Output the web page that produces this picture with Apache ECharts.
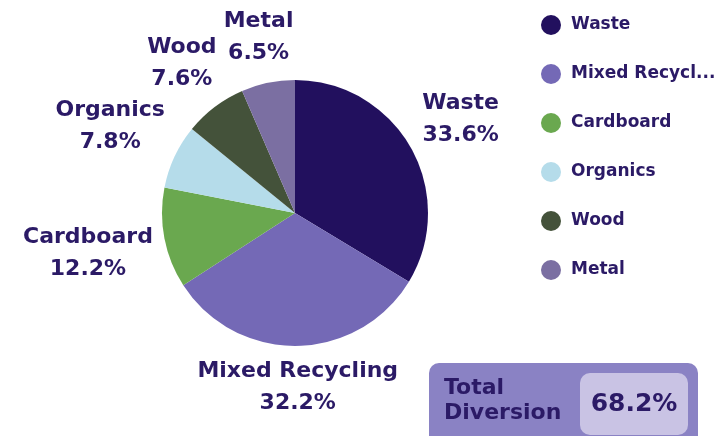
<!DOCTYPE html>
<html>
<head>
<meta charset="utf-8">
<script src="https://cdn.jsdelivr.net/npm/echarts@6/dist/echarts.min.js"></script>
<style>
html,body{margin:0;padding:0;background:#fff;}
#chart{width:718px;height:436px;}
</style>
</head>
<body>
<div id="chart"></div>
<script>
// ---- data ----
const categories = ['Waste', 'Mixed Recycling', 'Cardboard', 'Organics', 'Wood', 'Metal'];
const shares = [33.6, 32.2, 12.2, 7.8, 7.6, 6.5];
const totalDiversionLabel = 'Total\nDiversion';
const totalDiversionValue = '68.2%';

// ---- styles ----
const colors = ['#22105e', '#7469b6', '#6aa84f', '#b5dcea', '#44523a', '#7b6fa2'];
const textColor = '#2b1a66';
const fontFamily = '"DejaVu Sans", sans-serif';
const CX = 295, CY = 213, R = 133, GAP = 8;

const total = shares.reduce((a, b) => a + b, 0);
const midAngles = [];
let acc = 0;
shares.forEach(v => {
  midAngles.push((acc + v / 2) / total * Math.PI * 2);
  acc += v;
});

const chart = echarts.init(document.getElementById('chart'), null, {renderer: 'canvas'});
chart.setOption({
  animation: false,
  color: colors,
  legend: {
    orient: 'vertical',
    left: 536,
    top: 10,
    icon: 'circle',
    itemWidth: 30,
    itemHeight: 20,
    itemGap: 29,
    data: categories,
    textStyle: {
      color: textColor,
      fontFamily: fontFamily,
      fontWeight: 'bold',
      fontSize: 17,
      width: 146,
      overflow: 'truncate',
      ellipsis: '...'
    }
  },
  series: [{
    type: 'pie',
    center: [CX, CY],
    radius: R,
    startAngle: 90,
    clockwise: true,
    avoidLabelOverlap: false,
    data: categories.map((n, i) => ({name: n, value: shares[i]})),
    label: {
      show: true,
      position: 'outside',
      color: textColor,
      fontFamily: fontFamily,
      fontWeight: 'bold',
      fontSize: 22,
      lineHeight: 32,
      align: 'center',
      formatter: p => p.name + '\n' + p.value.toFixed(1) + '%'
    },
    labelLine: {show: false},
    labelLayout: function (params) {
      const a = midAngles[params.dataIndex];
      const ux = Math.sin(a), uy = -Math.cos(a);
      const w = params.labelRect.width, h = params.labelRect.height;
      const d = R + GAP + Math.abs(ux) * w / 2 + Math.abs(uy) * h / 2;
      return {x: CX + ux * d, y: CY + uy * d, align: 'center', verticalAlign: 'middle'};
    },
    emphasis: {disabled: true}
  }],
  graphic: [
    {
      type: 'rect',
      shape: {x: 429, y: 363, width: 269, height: 85, r: 10},
      style: {fill: '#8a82c4'}
    },
    {
      type: 'rect',
      shape: {x: 580, y: 373, width: 108, height: 62, r: 10},
      style: {fill: '#c9c3e4'}
    },
    {
      type: 'text',
      x: 444, y: 401,
      style: {
        text: totalDiversionLabel,
        fill: textColor,
        font: 'bold 22px ' + fontFamily,
        lineHeight: 25,
        verticalAlign: 'middle',
        align: 'left'
      }
    },
    {
      type: 'text',
      x: 634, y: 404,
      style: {
        text: totalDiversionValue,
        fill: textColor,
        font: 'bold 25px ' + fontFamily,
        verticalAlign: 'middle',
        align: 'center'
      }
    }
  ]
});
</script>
</body>
</html>
